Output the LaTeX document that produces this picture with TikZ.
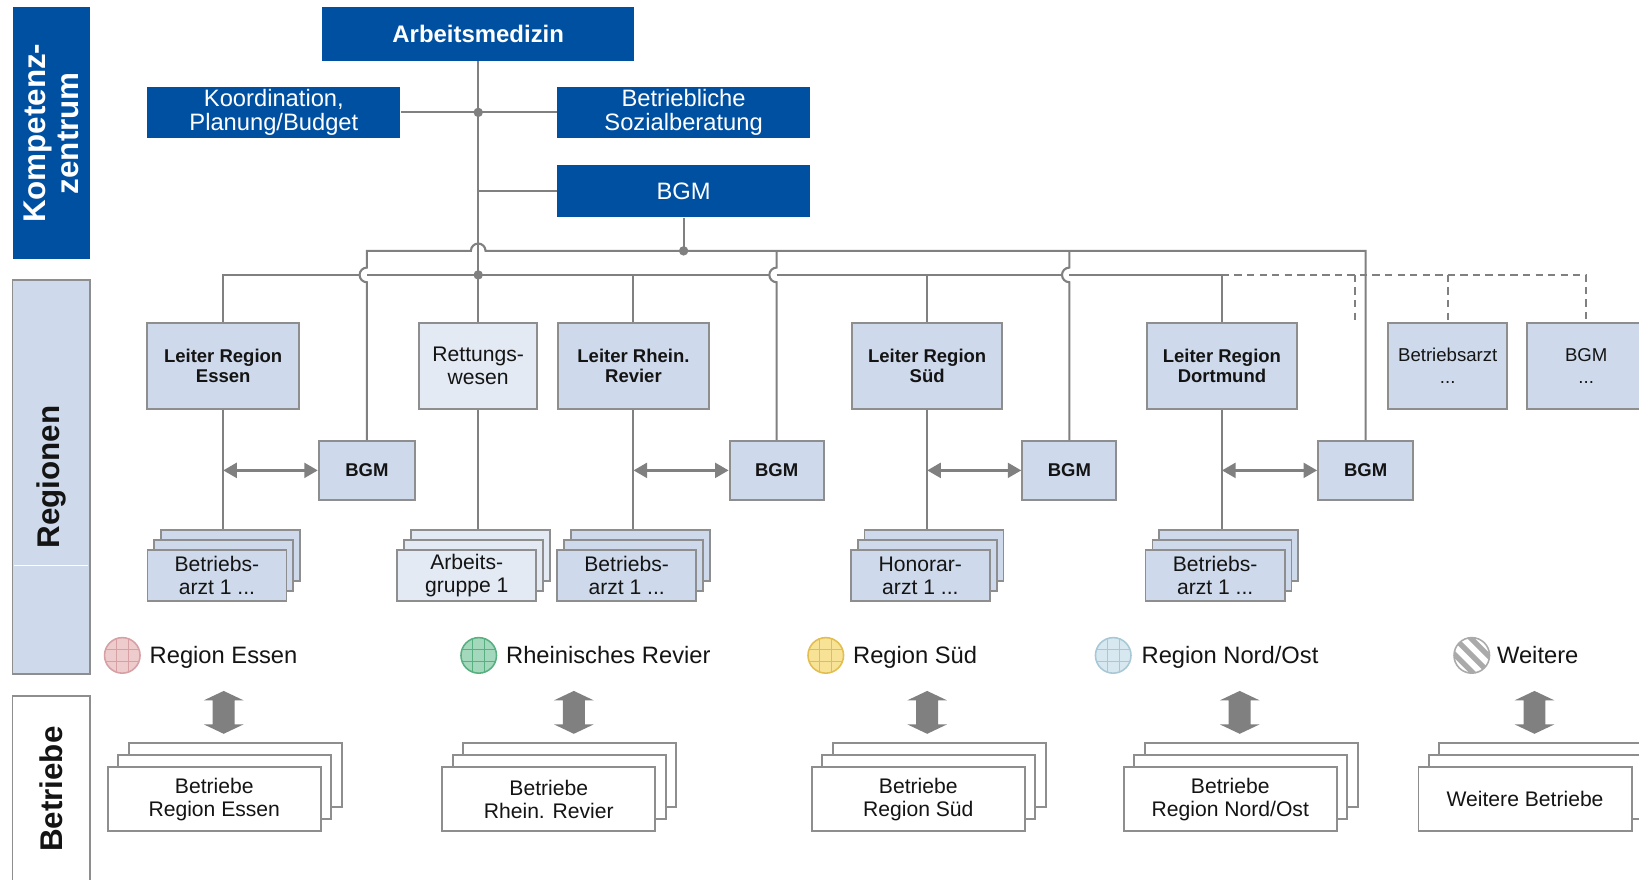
\documentclass[tikz,border=0pt]{standalone}
\usepackage{fontspec}
\setmainfont{Liberation Sans}
\usetikzlibrary{arrows.meta}
\definecolor{kblue}{RGB}{0,80,162}
\definecolor{lblue}{RGB}{206,218,235}
\definecolor{llblue}{RGB}{227,234,244}
\definecolor{cgray}{RGB}{128,128,128}
\definecolor{bgray}{RGB}{142,142,142}
\definecolor{txt}{RGB}{20,20,20}
\definecolor{eFill}{RGB}{238,204,206}
\definecolor{eLine}{RGB}{214,160,164}
\definecolor{rFill}{RGB}{164,216,188}
\definecolor{rLine}{RGB}{88,176,128}
\definecolor{sFill}{RGB}{247,226,150}
\definecolor{sLine}{RGB}{226,190,80}
\definecolor{nFill}{RGB}{216,232,240}
\definecolor{nLine}{RGB}{168,200,214}
\definecolor{wLine}{RGB}{170,170,170}
\newcommand\myfA{\fontsize{22.7}{22.5}\selectfont}
\newcommand\myfAB{\fontsize{22.9}{23}\selectfont\bfseries}
\newcommand\myfB{\fontsize{17.7}{19}\selectfont\bfseries}
\newcommand\myfC{\fontsize{20.2}{22}\selectfont}
\newcommand\myfD{\fontsize{17.8}{21}\selectfont}
\newcommand\myfS{\fontsize{30}{32}\selectfont\bfseries}
\newcommand\sstack[5]{%
  \node[sbox, fill=#4] (#1c) at (#2+13,#3-19) {};
  \node[sbox, fill=#4] (#1b) at (#2+6.5,#3-9.5) {};
  \node[sbox, fill=#4] (#1) at (#2,#3) {#5};}
\newcommand\bstack[4]{%
  \node[bbox] (#1c) at (#2+20,#3-23) {};
  \node[bbox] (#1b) at (#2+10,#3-11.5) {};
  \node[bbox] (#1) at (#2,#3) {#4};}
\begin{document}
\begin{tikzpicture}[x=1pt,y=-1pt,
  bluebox/.style={fill=kblue, inner sep=0, align=center, text=white, font=\myfA},
  rbox/.style={fill=lblue, draw=bgray, line width=1.8, inner sep=0, align=center, text=txt, minimum height=82},
  sbox/.style={fill=lblue, draw=bgray, line width=1.6, inner sep=0, align=center, text=txt, minimum width=133, minimum height=49, font=\myfC},
  bbox/.style={fill=white, draw=bgray, line width=1.8, inner sep=0, align=center, text=txt, minimum width=204, minimum height=61, font=\myfC},
  sidebar/.style={rotate=90, inner sep=0, align=center, font=\myfS, minimum height=74},
  conn/.style={draw=cgray, line width=2},
  dconn/.style={conn, dash pattern=on 7pt off 5pt},
  dbl/.style={draw=cgray, line width=3, {Triangle[length=13pt,width=14pt]}-{Triangle[length=13pt,width=14pt]}},
  legc/.style 2 args={circle, inner sep=0, minimum size=34, fill=#1, draw=#2, line width=1.5,
    path picture={\foreach \d in {-5.7,5.7}{%
      \draw[#2, line width=0.8] ([shift={(\d,-20)}]path picture bounding box.center) -- ([shift={(\d,20)}]path picture bounding box.center);
      \draw[#2, line width=0.8] ([shift={(-20,\d)}]path picture bounding box.center) -- ([shift={(20,\d)}]path picture bounding box.center);}}},
  wcirc/.style={circle, inner sep=0, minimum size=34, fill=white, draw=wLine, line width=1.5,
    path picture={\foreach \d in {-31,-15.5,0,15.5,31}{%
      \draw[wLine, line width=5] ([shift={(\d-20,-20)}]path picture bounding box.center) -- ([shift={(\d+20,20)}]path picture bounding box.center);}}},
  legt/.style={anchor=base west, inner sep=0, font=\myfA, text=txt}
]
\useasboundingbox (0,0) rectangle (1568,841);
\fill[white] (0,0) rectangle (1568,841);

% side bars
\node[sidebar, fill=kblue, text=white, minimum width=241] (kz) at (49,127.5) {Kompetenz-\\zentrum};
\node[sidebar, fill=lblue, draw=bgray, line width=1.8, text=txt, minimum width=377] (rg) at (49,456.5) {Regionen};
\draw[white, line width=1] (13.5,541) -- (84.5,541);
\node[sidebar, fill=white, draw=bgray, line width=1.8, text=txt, minimum width=178] (bt) at (49,755) {Betriebe};

% top level
\node[bluebox, minimum width=299, minimum height=51, font=\myfAB] (am) at (457.5,32.5) {Arbeitsmedizin};
\node[bluebox, minimum width=242, minimum height=49] (koord) at (262,107.5) {Koordination,\\Planung/Budget};
\node[bluebox, minimum width=242, minimum height=49] (sozial) at (654,107.5) {Betriebliche\\Sozialberatung};
\node[bluebox, minimum width=242, minimum height=50] (bgmk) at (654,183) {BGM};

% regional heads
\node[rbox, minimum width=145, font=\myfB] (lE) at (213.5,350) {Leiter Region\\Essen};
\node[rbox, minimum width=113, fill=llblue, font=\myfC] (rett) at (457.5,350) {Rettungs-\\wesen};
\node[rbox, minimum width=144, font=\myfB] (lR) at (606,350) {Leiter Rhein.\\Revier};
\node[rbox, minimum width=144, font=\myfB] (lS) at (887,350) {Leiter Region\\Süd};
\node[rbox, minimum width=144, font=\myfB] (lD) at (1169,350) {Leiter Region\\Dortmund};
\node[rbox, minimum width=114, font=\myfD] (bA) at (1385,350) {Betriebsarzt\\...};
\node[rbox, minimum width=113, font=\myfD] (bX) at (1517.5,350) {BGM\\...};

% regional BGM
\node[rbox, minimum width=92, minimum height=56, font=\myfB] (g1) at (351,450) {BGM};
\node[rbox, minimum width=90, minimum height=56, font=\myfB] (g2) at (743,450) {BGM};
\node[rbox, minimum width=90, minimum height=56, font=\myfB] (g3) at (1023,450) {BGM};
\node[rbox, minimum width=91, minimum height=56, font=\myfB] (g4) at (1306.5,450) {BGM};

% staff stacks
\sstack{sE}{207.5}{550.5}{lblue}{Betriebs-\\arzt 1 ...}
\sstack{sA}{446.5}{550.5}{llblue}{Arbeits-\\gruppe 1}
\sstack{sR}{599.5}{550.5}{lblue}{Betriebs-\\arzt 1 ...}
\sstack{sS}{880.5}{550.5}{lblue}{Honorar-\\arzt 1 ...}
\sstack{sD}{1162.5}{550.5}{lblue}{Betriebs-\\arzt 1 ...}

% connectors top
\coordinate (jA) at (457.5,107.5);
\coordinate (jB) at (457.5,183);
\coordinate (jC) at (457.5,263);
\coordinate (jD) at (654,240);
\draw[conn] (am.south) -- (rett.north);
\draw[conn] (koord.east) -- (sozial.west);
\draw[conn] (jB) -- (bgmk.west);
\draw[conn] (bgmk.south) -- (jD);
\draw[conn] (g1.north) -- (351,270) arc (90:270:7) -- (351,240) -- (450.5,240) arc (180:360:7) -- (1306.5,240) -- (g4.north);
\draw[conn] (743,240) -- (743,256) arc (270:90:7) -- (g2.north);
\draw[conn] (1023,240) -- (1023,256) arc (270:90:7) -- (g3.north);
\draw[conn] (lE.north) -- (213.5,263) -- (344,263);
\draw[conn] (351,263) -- (736,263);
\draw[conn] (743,263) -- (1016,263);
\draw[conn] (1023,263) -- (1169,263) -- (lD.north);
\draw[conn] (606,263) -- (lR.north);
\draw[conn] (887,263) -- (lS.north);
\draw[dconn] (1169,263) -- (1517.5,263) -- (bX.north);
\draw[dconn] (1296,263) -- (1296,309);
\draw[dconn] (1385,263) -- (bA.north);
\fill[cgray] (jA) circle (4.5);
\fill[cgray] (jC) circle (4.5);
\fill[cgray] (jD) circle (4.5);

% down lines to stacks
\draw[conn] (lE.south) -- (lE.south |- sEc.north);
\draw[conn] (rett.south) -- (rett.south |- sAc.north);
\draw[conn] (lR.south) -- (lR.south |- sRc.north);
\draw[conn] (lS.south) -- (lS.south |- sSc.north);
\draw[conn] (lD.south) -- (lD.south |- sDc.north);

% double arrows
\draw[dbl] (lE.south |- g1.west) -- (g1.west);
\draw[dbl] (lR.south |- g2.west) -- (g2.west);
\draw[dbl] (lS.south |- g3.west) -- (g3.west);
\draw[dbl] (lD.south |- g4.west) -- (g4.west);

% legend
\node[legc={eFill}{eLine}] (cE) at (117,627) {};
\node[legt] (tE) at (143,635) {Region Essen};
\node[legc={rFill}{rLine}] (cR) at (458,627) {};
\node[legt] (tR) at (484,635) {Rheinisches Revier};
\node[legc={sFill}{sLine}] (cS) at (790,627) {};
\node[legt] (tS) at (816,635) {Region Süd};
\node[legc={nFill}{nLine}] (cN) at (1065,627) {};
\node[legt] (tN) at (1092,635) {Region Nord/Ost};
\node[wcirc] (cW) at (1408,627) {};
\node[legt] (tW) at (1432,635) {Weitere};

% block arrows
\foreach \x in {214,549,887,1186,1468}{
  \fill[cgray] (\x,661) -- (\x+19,670) -- (\x+10.5,670) -- (\x+10.5,693) -- (\x+19,693) -- (\x,702) -- (\x-19,693) -- (\x-10.5,693) -- (\x-10.5,670) -- (\x-19,670) -- cycle;
}

% Betriebe stacks
\bstack{bE}{205}{764.5}{Betriebe\\Region Essen}
\bstack{bR}{525}{764.5}{Betriebe\\Rhein. Revier}
\bstack{bS}{878.5}{764.5}{Betriebe\\Region Süd}
\bstack{bN}{1177}{764.5}{Betriebe\\Region Nord/Ost}
\bstack{bW}{1459}{764.5}{Weitere Betriebe}
\end{tikzpicture}
\end{document}
